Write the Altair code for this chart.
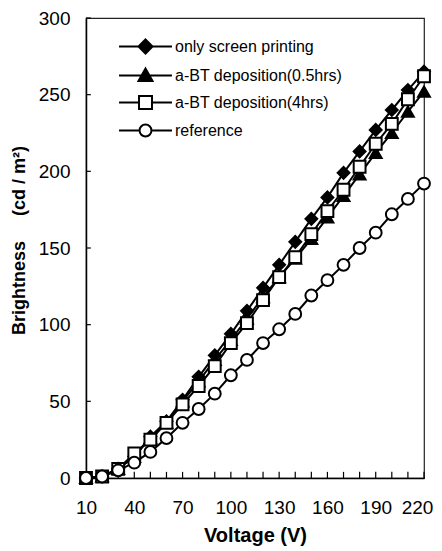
import altair as alt
import pandas as pd

voltage = list(range(10, 230, 10))
only_screen = [0, 1, 6, 14, 27, 37, 51, 66, 80, 94, 109, 124, 139, 154, 169, 183, 199, 213, 227, 240, 253, 265]
abt_05 = [0, 1, 6, 14, 26, 36, 50, 63, 77, 90, 104, 118, 131, 143, 156, 170, 184, 198, 212, 225, 239, 252]
abt_4 = [0, 1, 6, 16, 25, 36, 48, 60, 73, 88, 101, 116, 131, 144, 159, 174, 188, 203, 218, 231, 247, 262]
reference = [0, 1, 5, 10, 17, 26, 36, 45, 55, 67, 77, 88, 97, 107, 119, 129, 139, 150, 160, 172, 182, 192]

series_names = ["only screen printing", "a-BT deposition(0.5hrs)", "a-BT deposition(4hrs)", "reference"]
marker_shapes = ["diamond", "triangle-up", "square", "circle"]
marker_fills = ["black", "black", "white", "white"]
marker_strokes = ["black", "black", "black", "black"]
legend_paths = [
    "M-1.96,0H1.96M0,-0.52L0.52,0L0,0.52L-0.52,0Z",
    "M-1.96,0H1.96M0,-0.52L0.52,0.4L-0.52,0.4Z",
    "M-1.96,0H-0.48M0.48,0H1.96M-0.48,-0.48H0.48V0.48H-0.48Z",
    "M-1.96,0H-0.44M0.44,0H1.96M-0.44,0A0.44,0.44 0 1,0 0.44,0A0.44,0.44 0 1,0 -0.44,0Z",
]

x_tick_values = list(range(10, 230, 10))
x_label_values = [10, 40, 70, 100, 130, 160, 190, 220]
y_tick_values = [0, 50, 100, 150, 200, 250, 300]

rows = []
for name, vals in zip(series_names, [only_screen, abt_05, abt_4, reference]):
    for v, b in zip(voltage, vals):
        rows.append({"voltage": v, "brightness": b, "series": name})
df = pd.DataFrame(rows)

xticks_df = pd.DataFrame({"xt": x_tick_values})
yticks_df = pd.DataFrame({"yt": y_tick_values})

FONT = "Liberation Sans"
X_TITLE = "Voltage (V)"
Y_TITLE = "Brightness\u00a0\u00a0\u00a0\u00a0\u00a0(cd / m\u00b2)"

xscale = alt.Scale(domain=[10, 220], nice=False, zero=False)
yscale = alt.Scale(domain=[0, 300], nice=False)

x_main = alt.X(
    "voltage:Q", scale=xscale, title=X_TITLE,
    axis=alt.Axis(values=x_label_values, tickSize=0, labelPadding=20, labelFontSize=19,
                  labelFont=FONT, labelColor="black", titleFont=FONT, titleFontSize=20,
                  titleFontWeight="bold", titleColor="black", domainColor="black",
                  domainWidth=1.5, grid=False, titleX=169, titleY=47, labelFlush=False,
                  labelOffset={"condition": {"test": "datum.value == 220", "value": -7}, "value": 0}),
)
y_main = alt.Y(
    "brightness:Q", scale=yscale, title=Y_TITLE,
    axis=alt.Axis(values=y_tick_values, tickSize=0, labelPadding=16, labelFontSize=19,
                  labelFont=FONT, labelColor="black", titleFont=FONT, titleFontSize=18,
                  titleFontWeight="bold", titleColor="black", domainColor="black",
                  domainWidth=1.5, grid=False, titleX=-58, titleY=222),
)

lines = alt.Chart(df).mark_line(color="black", strokeWidth=2).encode(
    x=x_main, y=y_main, detail="series:N", order="voltage:Q"
)

points = alt.Chart(df).mark_point(size=140, stroke="black", strokeWidth=2, opacity=1, filled=True).encode(
    x=alt.X("voltage:Q", scale=xscale, title=X_TITLE),
    y=alt.Y("brightness:Q", scale=yscale, title=Y_TITLE),
    shape=alt.Shape("series:N", scale=alt.Scale(domain=series_names, range=marker_shapes), legend=None),
    fill=alt.Fill("series:N", scale=alt.Scale(domain=series_names, range=marker_fills), legend=None),
)

leg = alt.Legend(
    orient="none", legendX=45, legendY=14, title=None, padding=0,
    labelFont=FONT, labelFontSize=16, labelColor="black", labelOffset=15,
    symbolSize=729, symbolStrokeWidth=2, symbolStrokeColor="black", symbolOpacity=1,
    rowPadding=3, labelLimit=300,
)

legend_layer = alt.Chart(df).transform_filter("datum.brightness < 0").mark_point(
    size=729, strokeWidth=2, opacity=1, filled=True
).encode(
    x=alt.X("voltage:Q", scale=xscale, title=X_TITLE),
    y=alt.Y("brightness:Q", scale=yscale, title=Y_TITLE),
    shape=alt.Shape("series:N", scale=alt.Scale(domain=series_names, range=legend_paths), legend=leg),
    fill=alt.Fill("series:N", scale=alt.Scale(domain=series_names, range=marker_fills), legend=leg),
    stroke=alt.Stroke("series:N", scale=alt.Scale(domain=series_names, range=marker_strokes), legend=leg),
)

x_tick_rules = alt.Chart(xticks_df).mark_rule(color="black", strokeWidth=1.2).encode(
    x=alt.X("xt:Q", scale=xscale, title=X_TITLE),
    y=alt.datum(0),
    y2=alt.datum(4),
)
y_tick_rules = alt.Chart(yticks_df).mark_rule(color="black", strokeWidth=1.2).encode(
    y=alt.Y("yt:Q", scale=yscale, title=Y_TITLE),
    x=alt.datum(10),
    x2=alt.datum(13),
)

chart = alt.layer(lines, x_tick_rules, y_tick_rules, points, legend_layer).resolve_scale(
    shape="independent", fill="independent", stroke="independent"
).properties(
    width=338, height=460,
    autosize=alt.AutoSizeParams(type="none"),
    padding={"left": 78, "top": 10, "right": 10, "bottom": 70},
).configure_view(stroke="#222", strokeWidth=1.2)

chart.save("out.html", embed_options={"renderer": "svg", "actions": False})
